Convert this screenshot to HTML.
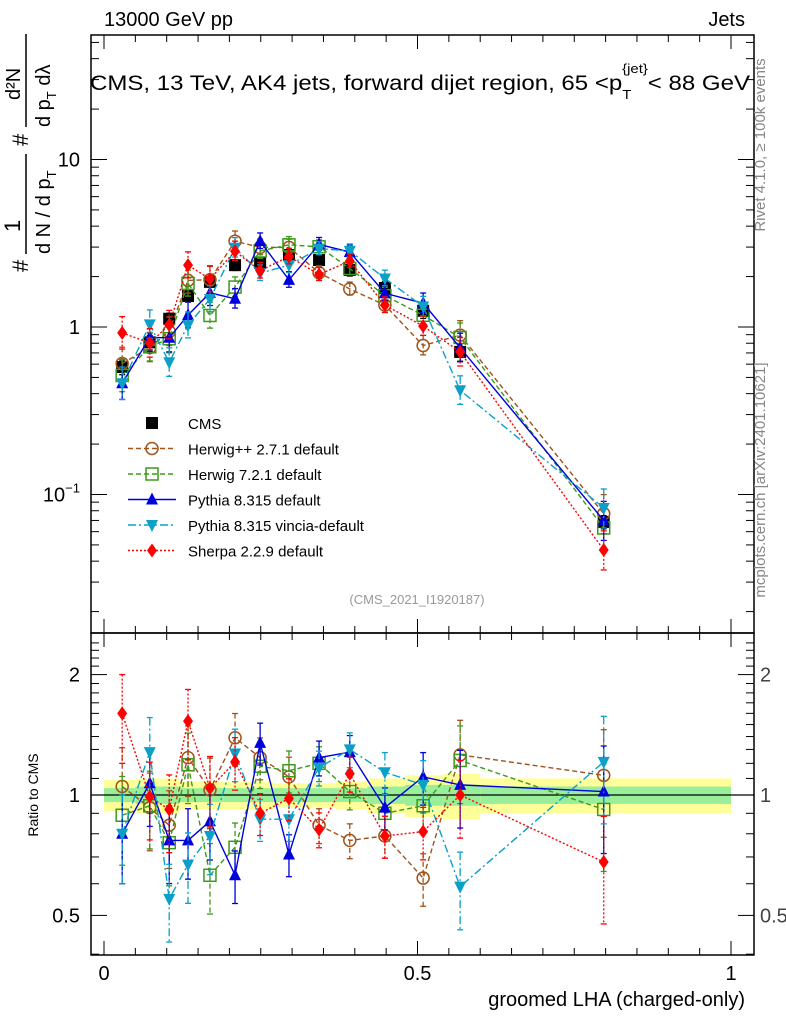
<!DOCTYPE html>
<html><head><meta charset="utf-8"><style>
body{margin:0;background:#fff}
svg{font-family:"Liberation Sans",sans-serif}
</style></head><body>
<svg id="c" width="786" height="1024" viewBox="0 0 786 1024" xmlns="http://www.w3.org/2000/svg">
<rect width="786" height="1024" fill="#fff"/>
<g id="bands"></g>
<g id="series"></g>
<g id="frame"></g>
<text x="104" y="26" font-size="20">13000 GeV pp</text>
<text x="745" y="26" font-size="20" text-anchor="end">Jets</text>
<text x="420" y="90" font-size="21" text-anchor="middle" textLength="660" lengthAdjust="spacingAndGlyphs">CMS, 13 TeV, AK4 jets, forward dijet region, 65 &lt;p<tspan font-size="13" dy="9">T</tspan><tspan font-size="13" dy="-26" dx="-8">{jet}</tspan><tspan dy="17">&lt; 88 GeV</tspan></text>
<text transform="translate(765,145) rotate(-90)" font-size="15" fill="#888" text-anchor="middle">Rivet 4.1.0, ≥ 100k events</text>
<text transform="translate(765,480) rotate(-90)" font-size="15" fill="#888" text-anchor="middle">mcplots.cern.ch [arXiv:2401.10621]</text>
<text x="417" y="604" font-size="13" fill="#999" text-anchor="middle">(CMS_2021_I1920187)</text>
<text x="745" y="1006" font-size="20" text-anchor="end">groomed LHA (charged-only)</text>
<text transform="translate(38,795) rotate(-90)" font-size="14" text-anchor="middle">Ratio to CMS</text>
<g transform="translate(0,272) rotate(-90)" font-size="22">
<text x="0" y="28">#</text>
<text x="40" y="20" font-size="22">1</text>
<line x1="18" y1="26" x2="118" y2="26" stroke="#000" stroke-width="1.5"/>
<text x="18" y="50" font-size="20">d N / d p<tspan font-size="13" dy="6">T</tspan></text>
<text x="126" y="28">#</text>
<text x="172" y="20" font-size="20">d²N</text>
<line x1="145" y1="26" x2="238" y2="26" stroke="#000" stroke-width="1.5"/>
<text x="145" y="50" font-size="20">d p<tspan font-size="13" dy="6">T</tspan><tspan dy="-6"> dλ</tspan></text>
</g>
<g id="legend"></g>
</svg>
<script>
const xs=[0.029,0.073,0.104,0.134,0.169,0.209,0.249,0.295,0.343,0.392,0.448,0.509,0.568,0.797];
const edges=[0,0.05,0.09,0.12,0.15,0.19,0.23,0.27,0.32,0.37,0.42,0.48,0.54,0.6,1.0];
const cms=[0.577,0.81,1.12,1.53,1.86,2.34,2.41,2.69,2.51,2.19,1.71,1.25,0.71,0.0686];
const cmsErr=[0.1,0.1,0.08,0.08,0.07,0.07,0.07,0.07,0.07,0.08,0.09,0.1,0.12,0.09];
const rHerwigpp=[1.05,0.93,0.84,1.24,1.03,1.39,1.24,1.11,0.84,0.77,0.79,0.62,1.26,1.12];
const rHerwig7=[0.89,0.94,0.76,1.19,0.63,0.74,1.18,1.15,1.2,1.02,0.9,0.94,1.22,0.92];
const rPythia=[0.80,1.07,0.77,0.77,0.86,0.63,1.35,0.71,1.24,1.28,0.93,1.11,1.06,1.02];
const rVincia=[0.80,1.28,0.55,0.67,0.79,1.27,0.87,0.87,1.17,1.30,1.14,1.06,0.59,1.21];
const rSherpa=[1.6,0.99,0.92,1.53,1.04,1.21,0.9,0.98,0.82,1.13,0.79,0.81,1.0,0.68];
const errRel=[0.25,0.22,0.22,0.2,0.2,0.15,0.12,0.12,0.1,0.1,0.12,0.15,0.22,0.3];
const yellowHalf=[0.09,0.1,0.1,0.08,0.08,0.08,0.08,0.07,0.07,0.08,0.1,0.12,0.13,0.1];
const greenHalf=[0.04,0.05,0.05,0.04,0.04,0.04,0.04,0.04,0.04,0.04,0.05,0.06,0.06,0.05];
const xTicks=[0,0.5,1];
const xTickLabels=["0","0.5","1"];
const NS="http://www.w3.org/2000/svg";
const L=91,R=754,T=35,M=633,B=955;
const X=v=>104+v*627;
const Y=v=>327-Math.log10(v)*167.5;
const YR=v=>795-Math.log10(v)*400;
function mk(tag,attrs,parent){const e=document.createElementNS(NS,tag);for(const k in attrs)e.setAttribute(k,attrs[k]);parent.appendChild(e);return e;}
const bands=document.getElementById('bands'),ser=document.getElementById('series'),fr=document.getElementById('frame'),lg=document.getElementById('legend');
for(let i=0;i<xs.length;i++){
 const x0=X(edges[i]),x1=X(edges[i+1]);
 const y=mk('rect',{x:x0,y:YR(1+yellowHalf[i]),width:x1-x0,height:YR(1-yellowHalf[i])-YR(1+yellowHalf[i]),fill:'#ffff99'},bands);
 
 
 const g=mk('rect',{x:x0,y:YR(1+greenHalf[i]),width:x1-x0,height:YR(1-greenHalf[i])-YR(1+greenHalf[i]),fill:'#99ee99'},bands);
 
 
}
mk('line',{x1:L,x2:R,y1:YR(1),y2:YR(1),stroke:'#000','stroke-width':1.2},bands);
function marker(g,type,x,y,col){
 const s=6;
 if(type==='sq')mk('rect',{x:x-s,y:y-s,width:2*s,height:2*s,fill:'#000'},g);
 else if(type==='osq')mk('rect',{x:x-s,y:y-s,width:2*s,height:2*s,fill:'none',stroke:col,'stroke-width':1.5},g);
 else if(type==='oc')mk('circle',{cx:x,cy:y,r:s,fill:'none',stroke:col,'stroke-width':1.5},g);
 else if(type==='tri')mk('polygon',{points:`${x},${y-7} ${x-6},${y+5} ${x+6},${y+5}`,fill:col},g);
 else if(type==='itri')mk('polygon',{points:`${x},${y+7} ${x-6},${y-5} ${x+6},${y-5}`,fill:col},g);
 else if(type==='dia')mk('polygon',{points:`${x},${y-7} ${x-5},${y} ${x},${y+7} ${x+5},${y}`,fill:col},g);
}
const defs=[
 {name:'herwigpp',label:'Herwig++ 2.7.1 default',r:rHerwigpp,col:'#a0521a',dash:'5,3',m:'oc'},
 {name:'herwig7',label:'Herwig 7.2.1 default',r:rHerwig7,col:'#3a9a1a',dash:'5,3',m:'osq'},
 {name:'pythia',label:'Pythia 8.315 default',r:rPythia,col:'#0000dd',dash:'',m:'tri'},
 {name:'vincia',label:'Pythia 8.315 vincia-default',r:rVincia,col:'#0aa0c8',dash:'8,3,2,3',m:'itri'},
 {name:'sherpa',label:'Sherpa 2.2.9 default',r:rSherpa,col:'#ff0000',dash:'2,2',m:'dia'}
];
function drawErr(g,x,y0,y1,col,dash){mk('line',{x1:x,x2:x,y1:y0,y2:y1,stroke:col,'stroke-width':1.3,'stroke-dasharray':dash},g);
 mk('line',{x1:x-3,x2:x+3,y1:y0,y2:y0,stroke:col,'stroke-width':1.3},g);mk('line',{x1:x-3,x2:x+3,y1:y1,y2:y1,stroke:col,'stroke-width':1.3},g);}
{const g=mk('g',{},ser);
 
 
 for(let i=0;i<xs.length;i++){drawErr(g,X(xs[i]),Y(cms[i]*(1+cmsErr[i])),Y(cms[i]*(1-cmsErr[i])),'#000','');marker(g,'sq',X(xs[i]),Y(cms[i]),'#000');}}
defs.forEach(d=>{
 const g=mk('g',{},ser);
 
 
 const mp=xs.map((x,i)=>`${X(x)},${Y(cms[i]*d.r[i])}`).join(' ');
 const rp=xs.map((x,i)=>`${X(x)},${YR(d.r[i])}`).join(' ');
 mk('polyline',{points:mp,fill:'none',stroke:d.col,'stroke-width':1.4,'stroke-dasharray':d.dash},g);
 mk('polyline',{points:rp,fill:'none',stroke:d.col,'stroke-width':1.4,'stroke-dasharray':d.dash},g);
 for(let i=0;i<xs.length;i++){
  const v=cms[i]*d.r[i],e=errRel[i];
  drawErr(g,X(xs[i]),Y(v*(1+e)),Y(v*(1-e*0.8)),d.col,d.dash);
  const rt=YR(d.r[i]*(1+errRel[i])),rb=Math.min(YR(Math.max(d.r[i]*(1-errRel[i]),0.4)),B);
  drawErr(g,X(xs[i]),Math.max(rt,M+2),rb,d.col,d.dash);
  marker(g,d.m,X(xs[i]),Y(v),d.col);
  marker(g,d.m,X(xs[i]),YR(d.r[i]),d.col);
 }
});
{const items=[{label:'CMS',m:'sq',col:'#000',dash:null}].concat(defs.map(d=>({label:d.label,m:d.m,col:d.col,dash:d.dash})));
 items.forEach((it,k)=>{const y=423+k*25.5;const g=mk('g',{},lg);
  
  
  if(it.dash!==null)mk('line',{x1:128,x2:176,y1:y,y2:y,stroke:it.col,'stroke-width':1.4,'stroke-dasharray':it.dash},g);
  marker(g,it.m,152,y,it.col);
  const t=mk('text',{x:188,y:y+6,'font-size':15},g);t.textContent=it.label;});}
mk('rect',{x:L,y:T,width:R-L,height:M-T,fill:'none',stroke:'#000','stroke-width':1.5},fr);
mk('rect',{x:L,y:M,width:R-L,height:B-M,fill:'none',stroke:'#000','stroke-width':1.5},fr);
for(let v=0;v<=1.0001;v+=0.05){const x=X(v);const major=Math.abs(v*2-Math.round(v*2))<1e-6;const len=major?14:7;
 [[T,1],[M,-1],[M,1],[B,-1]].forEach(([y,s])=>mk('line',{x1:x,x2:x,y1:y,y2:y+s*len,stroke:'#000','stroke-width':1},fr));}
xTicks.forEach((v,i)=>{const t=mk('text',{x:X(v),y:980,'font-size':20,'text-anchor':'middle'},fr);
 
 
 t.textContent=xTickLabels[i];});
for(let d=-2;d<=1;d++)for(let m=1;m<=9;m++){const v=m*Math.pow(10,d);const y=Y(v);if(y<T||y>M)continue;const len=m===1?16:8;
 mk('line',{x1:L,x2:L+len,y1:y,y2:y,stroke:'#000'},fr);mk('line',{x1:R,x2:R-len,y1:y,y2:y,stroke:'#000'},fr);}
[[10,'10'],[1,'1']].forEach(([v,s])=>{const t=mk('text',{x:80,y:Y(v)+7,'font-size':20,'text-anchor':'end'},fr);t.textContent=s;});
{const t=mk('text',{x:80,y:Y(0.1)+7,'font-size':20,'text-anchor':'end'},fr);t.innerHTML='10<tspan font-size="13" dy="-9">−1</tspan>';}
for(let v=0.4;v<=2.5;v+=0.1){const y=YR(v);if(y<M||y>B)continue;const maj=[0.5,1,2].some(a=>Math.abs(a-v)<1e-6);const len=maj?16:8;
 mk('line',{x1:L,x2:L+len,y1:y,y2:y,stroke:'#000'},fr);mk('line',{x1:R,x2:R-len,y1:y,y2:y,stroke:'#000'},fr);}
[[2,'2'],[1,'1'],[0.5,'0.5']].forEach(([v,s])=>{const t=mk('text',{x:80,y:YR(v)+7,'font-size':20,'text-anchor':'end'},fr);t.textContent=s;
 const t2=mk('text',{x:760,y:YR(v)+7,'font-size':20,fill:'#444'},fr);t2.textContent=s;});
</script>
</body></html>
